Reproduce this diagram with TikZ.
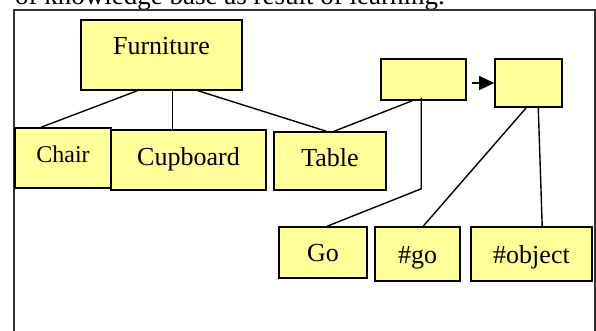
\documentclass[tikz,border=0pt]{standalone}
\usepackage{fontspec}
\setmainfont{Liberation Serif}
\usetikzlibrary{calc,arrows.meta}
\definecolor{boxfill}{HTML}{FFFF99}
\definecolor{framegray}{HTML}{333333}
\begin{document}
\begin{tikzpicture}[x=1pt,y=-1pt,
  kbox/.style={draw=black,line width=1.6pt,fill=boxfill,inner sep=0pt,
    text height=18pt,text depth=6pt,font=\fontsize{26}{30}\selectfont},
  conn/.style={line width=1.4pt,black}]
\useasboundingbox (0,0) rectangle (596,331);
% clipped caption text at the top
\begin{scope}
\clip (0,0) rectangle (596,331);
\node[anchor=base west,inner sep=0pt,font=\fontsize{27}{30}\selectfont] (cap) at (15,5) {of knowledge base as result of learning.};
\end{scope}
% frame
\draw[framegray,line width=1.3pt] (14,331) -- (14,10) -- (595,10) -- (595,331);
% boxes
\node[kbox,minimum width=161pt,minimum height=70pt] (furn) at (161.5,55) {\raisebox{6pt}{Furniture}};
\node[kbox,minimum width=96pt,minimum height=60pt,font=\fontsize{24}{28}\selectfont] (chair) at (63,158) {\raisebox{1pt}{Chair}};
\node[kbox,minimum width=155pt,minimum height=60pt] (cup) at (188.5,160) {\raisebox{1pt}{Cupboard}};
\node[kbox,minimum width=112pt,minimum height=58pt] (table) at (330,161) {Table};
\node[kbox,minimum width=85pt,minimum height=41pt] (b1) at (423.5,79.5) {};
\node[kbox,minimum width=67pt,minimum height=48pt] (b2) at (528.5,83) {};
\node[kbox,minimum width=88pt,minimum height=51pt] (go) at (323,252.5) {\raisebox{-3pt}{Go}};
\node[kbox,minimum width=85pt,minimum height=54pt] (hgo) at (417.5,254) {\raisebox{-3pt}{\#go}};
\node[kbox,minimum width=121pt,minimum height=54pt] (obj) at (531.5,254) {\raisebox{-3pt}{\#object}};
% connectors
\draw[conn] ($(furn.south west)+(57,0)$) -- ($(chair.north west)+(27,0)$);
\draw[conn] ($(furn.south west)+(92,0)$) -- ($(cup.north west)+(62,0)$);
\draw[conn] ($(furn.south west)+(118,0)$) -- ($(table.north west)+(53,0)$);
\draw[conn] ($(b1.south west)+(32,0)$) -- ($(table.north west)+(61,0)$);
\coordinate (bend) at ($(b1.south west)+(41,88)$);
\draw[conn] ($(b1.south west)+(41,-3)$) -- (bend) -- ($(go.north west)+(49,0)$);
\draw[conn] ($(b2.south west)+(32,0)$) -- ($(hgo.north west)+(49,0)$);
\draw[conn] ($(b2.south west)+(44,-2)$) -- ($(obj.north west)+(72,0)$);
\coordinate (astart) at ($(b1.east)+(5,3.5)$);
\draw[conn,-{Triangle[length=15pt,width=14pt]}] (astart) -- (astart -| b2.west);
\end{tikzpicture}
\end{document}
